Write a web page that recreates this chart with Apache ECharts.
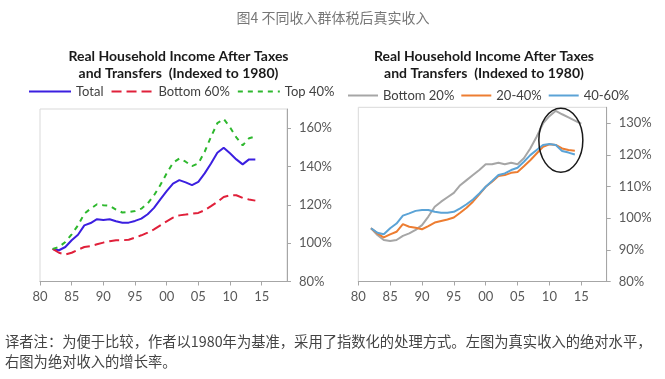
<!DOCTYPE html>
<html><head><meta charset="utf-8">
<script src="https://cdn.jsdelivr.net/npm/echarts@6/dist/echarts.min.js"></script>
<style>html,body{margin:0;padding:0;background:#fff}#c{width:665px;height:379px}</style>
</head><body><div id="c"></div>
<script>
var years = [1982,1983,1984,1985,1986,1987,1988,1989,1990,1991,1992,1993,1994,1995,1996,1997,1998,1999,2000,2001,2002,2003,2004,2005,2006,2007,2008,2009,2010,2011,2012,2013,2014];
var yearsGray = [1982,1983,1984,1985,1986,1987,1988,1989,1990,1991,1992,1993,1994,1995,1996,1997,1998,1999,2000,2001,2002,2003,2004,2005,2006,2007,2008,2009,2010,2011,2012,2013,2014,2015];
var total = [97,96.3,98,101.5,104.4,109.3,110.5,112.5,112.1,112.5,111.4,110.7,110.7,111.6,112.8,115.1,118.4,122.8,127.1,131.1,132.9,131.7,130.3,132,136.4,141.6,147.2,149.8,146.9,143.7,141.1,143.7,143.7];
var bottom60 = [97,95,94.1,95,96.6,98,98.5,99.4,100.3,101,101.5,101.5,101.8,102.9,104.1,105.5,107.2,109.3,111.4,113.3,114.5,114.9,115.4,115.8,117.2,119.3,121.5,124.1,125,125,123.6,122.8,122.2];
var top40 = [97,98,100.6,104.6,109.3,115.4,118,120.3,119.8,119.5,117.5,116,116.3,116.8,118,120.7,125,130.3,136.4,141.9,144.2,142.5,140.2,141.6,147.7,155.5,162.6,164.8,160.5,155.2,151,154.7,155.7];
var bottom20 = [96.8,94.7,93.1,92.8,93.1,94.4,95.2,96.3,97.8,100.5,103.6,105.2,106.6,108,110.4,112,113.6,115.2,117,117,117.5,117,117.5,117,118.9,122,125.7,129.9,132.2,133.9,132.8,131.8,130.8,129.8];
var p20_40 = [96.8,95.2,93.9,94.9,95.7,98.1,97.3,97,96.5,97.5,98.6,99.1,99.6,100.2,101.7,103.3,105.2,107.5,109.9,111.5,113.3,113.6,114.3,114.6,116.4,118.3,120.4,122.5,123.3,123.1,122,121.5,121.3];
var p40_60 = [96.8,95.4,94.9,96.8,98.3,100.8,101.5,102.3,102.6,102.6,102,101.7,101.7,102,103.1,104.4,105.9,107.8,109.9,111.7,113.6,114.1,115.2,115.9,117.8,119.9,121.5,123.1,123.4,123.1,121.2,120.7,120.1];
var xTicks = {1980:'80',1985:'85',1990:'90',1995:'95',2000:'00',2005:'05',2010:'10',2015:'15'};
var titleText = ['Real Household Income After Taxes', 'and Transfers  (Indexed to 1980)'];
var headerText = '图4 不同收入群体税后真实收入';
var footerText = ['译者注：为便于比较，作者以1980年为基准，采用了指数化的处理方式。左图为真实收入的绝对水平，', '右图为绝对收入的增长率。'];

function pairs(xs, vs){ return xs.map(function(x,i){ return [x, vs[i]]; }); }

var chart = echarts.init(document.getElementById('c'), null, {renderer:'canvas'});
var lblColor = '#595959';
function xAxis(gi){
  return {type:'value', gridIndex:gi, min:1980, max:2019, interval:5,
    axisLine:{lineStyle:{color:'#a6a6a6', width:1}},
    axisTick:{show:true, length:4, lineStyle:{color:'#a6a6a6'}},
    splitLine:{show:false},
    axisLabel:{color:lblColor, fontSize:13, fontFamily:'Lato', margin:9, showMaxLabel:false,
      formatter:function(v){ return xTicks[v] || ''; }}};
}
function yAxis(gi, max, interval){
  return {type:'value', gridIndex:gi, position:'right', min:80, max:max, interval:interval,
    axisLine:{show:true, lineStyle:{color:'#a6a6a6', width:1}},
    axisTick:{show:true, length:4, lineStyle:{color:'#a6a6a6'}},
    splitLine:{show:false},
    axisLabel:{color:lblColor, fontSize:13, fontFamily:'Lato', margin:12, showMaxLabel:false,
      formatter:function(v){ return v + '%'; }}};
}
function line(name, gi, data, color, type){
  return {name:name, type:'line', xAxisIndex:gi, yAxisIndex:gi, data:data, symbol:'none', smooth:false,
    lineStyle:{color:color, width:2, type:type||'solid'}, itemStyle:{color:color}, animation:false};
}
var titleFont = 'bold 14px Lato';
var graphics = [
  {type:'text', style:{text:headerText, x:333, y:18, fill:'#777', font:'14px "Noto Sans CJK SC"', textAlign:'center', textVerticalAlign:'middle'}},
  {type:'text', style:{text:titleText[0], x:178.5, y:56.5, fill:'#1a1a1a', font:titleFont, textAlign:'center', textVerticalAlign:'middle'}},
  {type:'text', style:{text:titleText[1], x:178.5, y:73.5, fill:'#1a1a1a', font:titleFont, textAlign:'center', textVerticalAlign:'middle'}},
  {type:'text', style:{text:titleText[0], x:484, y:56, fill:'#1a1a1a', font:titleFont, textAlign:'center', textVerticalAlign:'middle'}},
  {type:'text', style:{text:titleText[1], x:484, y:73, fill:'#1a1a1a', font:titleFont, textAlign:'center', textVerticalAlign:'middle'}},
  {type:'text', style:{text:footerText[0], x:5, y:342, fill:'#444', font:'14.3px "Noto Sans CJK SC"', textAlign:'left', textVerticalAlign:'middle'}},
  {type:'text', style:{text:footerText[1], x:5, y:362, fill:'#444', font:'14.3px "Noto Sans CJK SC"', textAlign:'left', textVerticalAlign:'middle'}}
];
var option = {
  animation:false,
  backgroundColor:'#fff',
  grid:[
    {left:40, right:378, top:109, bottom:97.5, show:true, borderColor:'#d9d9d9', borderWidth:1, containLabel:false},
    {left:358.3, right:58.3, top:107.3, bottom:97.5, show:true, borderColor:'#d9d9d9', borderWidth:1, containLabel:false}
  ],
  legend:[
    {data:['Total','Bottom 60%','Top 40%'], left:28, top:85, padding:0, itemWidth:42, itemHeight:2, itemGap:7,
      itemStyle:{opacity:0},
      textStyle:{color:'#404040', fontSize:13, fontFamily:'Lato'}},
    {data:['Bottom 20%','20-40%','40-60%'], left:347, top:89, padding:0, itemWidth:30, itemHeight:2, itemGap:6,
      itemStyle:{opacity:0},
      textStyle:{color:'#404040', fontSize:13, fontFamily:'Lato'}}
  ],
  xAxis:[xAxis(0), xAxis(1)],
  yAxis:[yAxis(0,170,20), yAxis(1,135,10)],
  series:[
    line('Total',0,pairs(years,total),'#3b1fe0'),
    line('Bottom 60%',0,pairs(years,bottom60),'#e0203a',[10,5]),
    line('Top 40%',0,pairs(years,top40),'#2eb82e',[5,5]),
    line('Bottom 20%',1,pairs(yearsGray,bottom20),'#a6a6a6'),
    line('20-40%',1,pairs(years,p20_40),'#ed7d31'),
    line('40-60%',1,pairs(years,p40_60),'#5ba3d6')
  ],
  graphic:graphics
};
chart.setOption(option);
var ctr = chart.convertToPixel({gridIndex:1}, [2011.8, 124.6]);
graphics.push({type:'ellipse', shape:{cx:ctr[0], cy:ctr[1], rx:22, ry:32}, style:{fill:'none', stroke:'#1a1a1a', lineWidth:1.5}, z:10});
chart.setOption({graphic:graphics});
</script></body></html>
